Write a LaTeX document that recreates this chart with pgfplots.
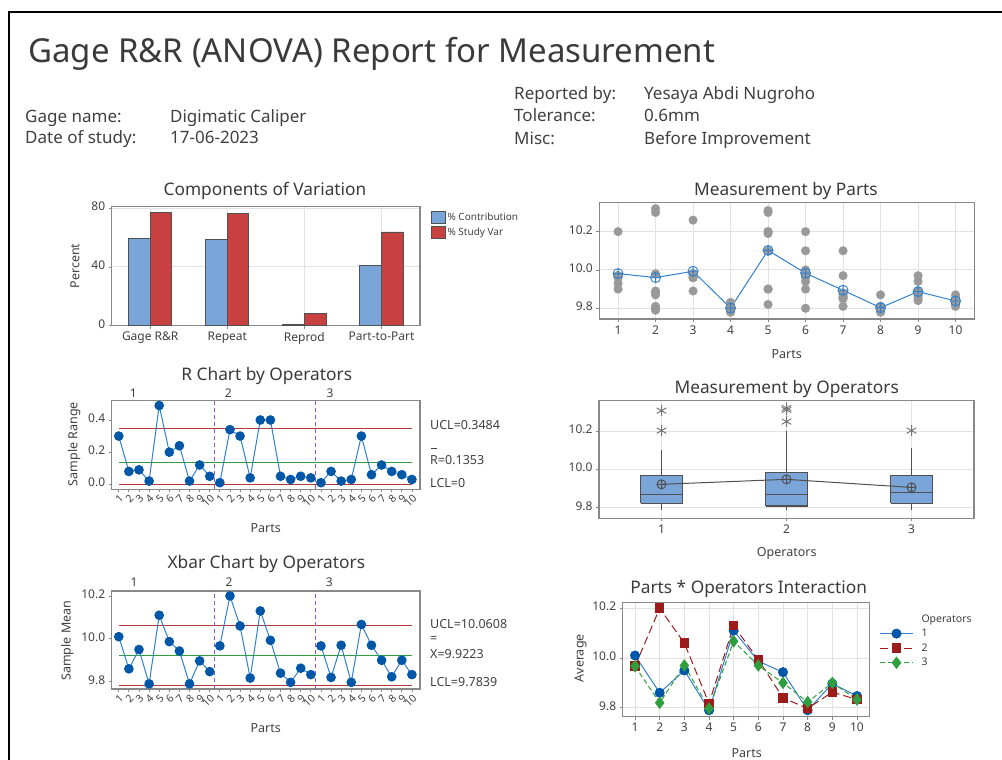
\documentclass[border=0pt]{standalone}
\usepackage{fontspec}
\setmainfont{Noto Sans}
\usepackage{pgfplots}
\usepackage{pgfplotstable}
\pgfplotsset{compat=1.18}
\definecolor{cblue}{HTML}{7AA5D8}
\definecolor{cred}{HTML}{C84141}
\definecolor{edge}{HTML}{505050}
\definecolor{axgray}{HTML}{888888}
\definecolor{gridgray}{HTML}{E2E2E2}
\definecolor{ptblue}{HTML}{0057A8}
\definecolor{lnblue}{HTML}{3080D0}
\definecolor{limred}{HTML}{B23A3A}
\definecolor{cgreen}{HTML}{2E9E3E}
\definecolor{dpurple}{HTML}{8B55E0}
\definecolor{dotgray}{HTML}{999999}
\definecolor{op2red}{HTML}{9E1B1B}
\definecolor{titlegray}{HTML}{3A3A3A}
\definecolor{txtgray}{HTML}{404040}
\definecolor{stargray}{HTML}{777777}
\newcommand{\fs}[1]{\fontsize{#1pt}{#1pt}\selectfont}

\pgfplotstableread{
x y
1 10.20
1 9.93
1 9.90
1 9.97
1 9.97
1 9.96
1 9.97
1 9.96
1 9.97
2 9.88
2 9.89
2 9.81
2 10.32
2 10.30
2 9.98
2 9.80
2 9.79
2 9.87
3 9.98
3 9.98
3 9.89
3 10.26
3 9.96
3 9.96
3 9.96
3 9.97
3 9.98
4 9.78
4 9.80
4 9.79
4 9.83
4 9.79
4 9.83
4 9.78
4 9.81
4 9.80
5 10.31
5 10.20
5 9.82
5 10.30
5 10.19
5 9.90
5 10.20
5 10.10
5 9.90
6 10.10
6 9.90
6 9.96
6 10.20
6 9.80
6 9.98
6 10.00
6 9.94
6 9.97
7 10.10
7 9.86
7 9.87
7 9.86
7 9.81
7 9.85
7 9.97
7 9.85
7 9.88
8 9.78
8 9.80
8 9.79
8 9.78
8 9.81
8 9.80
8 9.87
8 9.79
8 9.81
9 9.97
9 9.85
9 9.87
9 9.89
9 9.84
9 9.86
9 9.94
9 9.88
9 9.88
10 9.87
10 9.82
10 9.85
10 9.85
10 9.81
10 9.84
10 9.85
10 9.82
10 9.83
}\partsdata

\pgfplotsset{
 mm/.style={
  scale only axis, anchor=south west,
  axis line style={draw=axgray, line width=1.3pt},
  tick align=outside, major tick length=3pt,
  tick style={draw=axgray, line width=0.8pt},
  xtick pos=left, ytick pos=left,
  grid=major, major grid style={draw=gridgray, line width=0.9pt},
  ticklabel style={font=\fs{12}, text=txtgray},
  /pgf/number format/assume math mode=true,
  typeset ticklabels with strut,
 },
 dec1/.style={yticklabel style={/pgf/number format/.cd, fixed, fixed zerofill, precision=1}},
 sqlegend/.style={legend image code/.code={\draw[##1] (0pt,-6pt) rectangle (14pt,6pt);}},
 longline/.style={legend image code/.code={\draw[mark repeat=2, mark phase=2, ##1] plot coordinates {(0pt,0pt) (16.5pt,0pt) (33pt,0pt)};}},
 boxst/.style={fill=cblue, draw=edge, line width=1.1pt},
 whisk/.style={draw=edge, line width=0.9pt},
 outl/.style={only marks, mark=asterisk, mark size=5.5pt, mark options={draw=stargray, line width=1pt}},
}

\begin{document}
\begin{tikzpicture}[x=1pt,y=1pt]
\path[use as bounding box] (0,0) rectangle (1002,760);
\draw[line width=2pt, black] (9,0) -- (9,748) -- (1002,748);

% header
\node[anchor=base west, font=\fs{33}, text=titlegray, inner sep=0] at (28,760-63) {Gage R\&R (ANOVA) Report for Measurement};
\begin{scope}[every node/.style={anchor=base west, font=\fs{17}, text=txtgray, inner sep=0}]
\node at (25,760-122.7) {Gage name:};
\node at (170,760-122.7) {Digimatic Caliper};
\node at (25,760-144) {Date of study:};
\node at (170,760-144) {17-06-2023};
\node at (514,760-99.3) {Reported by:};
\node at (644,760-99.3) {Yesaya Abdi Nugroho};
\node at (514,760-121.7) {Tolerance:};
\node at (644,760-121.7) {0.6mm};
\node at (514,760-145) {Misc:};
\node at (644,760-145) {Before Improvement};
\end{scope}

% panel titles
\begin{scope}[every node/.style={anchor=base, font=\fs{17.3}, text=titlegray, inner sep=0}]
\node at (265,760-195.7) {Components of Variation};
\node at (786,760-195.7) {Measurement by Parts};
\node at (266.7,760-380.5) {R Chart by Operators};
\node at (786.7,760-394) {Measurement by Operators};
\node at (266.3,760-569) {Xbar Chart by Operators};
\node at (748.7,760-594) {Parts * Operators Interaction};
\end{scope}

% axis labels
\begin{scope}[every node/.style={anchor=center, font=\fs{12.5}, text=txtgray, inner sep=0}]
\node[rotate=90] at (75,760-266) {Percent};
\node at (786.7,760-354.3) {Parts};
\node[rotate=90] at (74,760-444) {Sample Range};
\node at (265.7,760-528.3) {Parts};
\node at (786.7,760-553.3) {Operators};
\node[rotate=90] at (67.3,760-640.7) {Sample Mean};
\node at (265.7,760-727.7) {Parts};
\node[rotate=90] at (580.7,760-658.3) {Average};
\node at (746.7,760-752.7) {Parts};
\end{scope}

% operator labels and control limits
\begin{scope}[every node/.style={anchor=base, font=\fs{12}, text=txtgray, inner sep=0}]
\node at (133.3,760-397.3) {1};
\node at (228.3,760-397.3) {2};
\node at (330,760-397.3) {3};
\node at (134,760-586.7) {1};
\node at (229,760-586.7) {2};
\node at (329.3,760-586.7) {3};
\end{scope}
\begin{scope}[every node/.style={anchor=base west, font=\fs{12.5}, text=txtgray, inner sep=0}]
\node at (430,760-430) {UCL=0.3484};
\node at (430,760-465) {R=0.1353};
\node at (430,760-487.3) {LCL=0};
\node at (430,760-628.3) {UCL=10.0608};
\node at (430,760-643) {=};
\node at (430,760-658.3) {X=9.9223};
\node at (430,760-686.7) {LCL=9.7839};
\end{scope}
\draw[txtgray, line width=0.9pt] (431,760-448.5) -- (437,760-448.5);

% 1. Components of variation
\begin{axis}[mm, at={(111.7pt,434.3pt)}, width=308.3pt, height=119pt,
  ybar=0pt, bar width=0.28,
  xmin=0.5, xmax=4.5, ymin=0, ymax=81,
  xtick={1,2,3,4}, xticklabels={Gage R\&R, Repeat, Reprod, Part-to-Part},
  ytick={0,40,80},
  legend style={at={(rel axis cs:1,1)}, anchor=north west, xshift=11pt, yshift=-4pt,
    draw=none, fill=none, inner sep=0pt, font=\fs{10}, text=txtgray,
    row sep=2pt, cells={anchor=west}, nodes={inner sep=1.5pt}},
]
\addplot[fill=cblue, draw=edge, line width=0.9pt, sqlegend]
  coordinates {(1,59.3) (2,58.6) (3,0.7) (4,40.7)};
\addlegendentry{\% Contribution}
\addplot[fill=cred, draw=edge, line width=0.9pt, sqlegend]
  coordinates {(1,77.0) (2,76.6) (3,8.4) (4,63.8)};
\addlegendentry{\% Study Var}
\end{axis}

% 2. Measurement by parts
\begin{axis}[mm, dec1, at={(599.3pt,441pt)}, width=375pt, height=116.7pt,
  xmin=0.5, xmax=10.5, ymin=9.744, ymax=10.353,
  xtick={1,2,3,4,5,6,7,8,9,10}, ytick={9.8,10.0,10.2}]
\addplot[only marks, mark=*, mark size=4.3pt, draw=dotgray, fill=dotgray] table[x=x, y=y] {\partsdata};
\addplot[lnblue, line width=1pt, mark=oplus, mark size=5pt, mark options={line width=0.9pt}]
  coordinates {(1,9.981) (2,9.960) (3,9.993) (4,9.801) (5,10.102) (6,9.983) (7,9.894) (8,9.803) (9,9.887) (10,9.838)};
\end{axis}

% 3. R chart
\begin{axis}[mm, dec1, at={(111.7pt,270.7pt)}, width=308.3pt, height=88.6pt,
  grid=none, xmin=0.3, xmax=30.8, ymin=-0.031, ymax=0.52,
  xtick={1,...,30},
  xticklabels={1,2,3,4,5,6,7,8,9,10,1,2,3,4,5,6,7,8,9,10,1,2,3,4,5,6,7,8,9,10},
  xticklabel style={rotate=45, anchor=north east, font=\fs{10.5}, inner sep=1pt},
  ytick={0,0.2,0.4}]
\addplot[limred, line width=1.2pt] coordinates {(1,0.3484) (30,0.3484)};
\addplot[limred, line width=1.2pt] coordinates {(1,0) (30,0)};
\addplot[cgreen, line width=1.2pt] coordinates {(1,0.1353) (30,0.1353)};
\addplot[dpurple, line width=1pt, dash pattern=on 4pt off 3pt] coordinates {(10.5,-0.031) (10.5,0.52)};
\addplot[dpurple, line width=1pt, dash pattern=on 4pt off 3pt] coordinates {(20.5,-0.031) (20.5,0.52)};
\addplot[lnblue, line width=1pt, mark=*, mark size=4.3pt, mark options={draw=ptblue, fill=ptblue}]
  coordinates {(1,0.30) (2,0.08) (3,0.09) (4,0.02) (5,0.49) (6,0.20) (7,0.24) (8,0.02) (9,0.12) (10,0.05)};
\addplot[lnblue, line width=1pt, mark=*, mark size=4.3pt, mark options={draw=ptblue, fill=ptblue}]
  coordinates {(11,0.01) (12,0.34) (13,0.30) (14,0.04) (15,0.40) (16,0.40) (17,0.05) (18,0.03) (19,0.05) (20,0.04)};
\addplot[lnblue, line width=1pt, mark=*, mark size=4.3pt, mark options={draw=ptblue, fill=ptblue}]
  coordinates {(21,0.01) (22,0.08) (23,0.02) (24,0.03) (25,0.30) (26,0.06) (27,0.12) (28,0.08) (29,0.06) (30,0.03)};
\end{axis}

% 4. Measurement by operators (box plot)
\begin{axis}[mm, dec1, at={(599pt,241.7pt)}, width=375pt, height=117.6pt,
  xmin=0.5, xmax=3.5, ymin=9.745, ymax=10.358,
  xtick={1,2,3}, ytick={9.8,10.0,10.2}]
% operator 1
\addplot[whisk] coordinates {(1,9.788) (1,9.823)};
\addplot[whisk] coordinates {(1,9.970) (1,10.10)};
\addplot[boxst] coordinates {(0.832,9.823) (1.168,9.823) (1.168,9.970) (0.832,9.970) (0.832,9.823)};
\addplot[whisk, line width=1.1pt] coordinates {(0.832,9.871) (1.168,9.871)};
\addplot[outl] coordinates {(1,10.306) (1,10.202)};
% operator 2
\addplot[whisk] coordinates {(2,9.788) (2,9.809)};
\addplot[whisk] coordinates {(2,9.984) (2,10.20)};
\addplot[boxst] coordinates {(1.832,9.809) (2.168,9.809) (2.168,9.984) (1.832,9.984) (1.832,9.809)};
\addplot[whisk, line width=1.1pt] coordinates {(1.832,9.871) (2.168,9.871)};
\addplot[outl] coordinates {(2,10.32) (2,10.31) (2,10.249)};
% operator 3
\addplot[whisk] coordinates {(3,9.788) (3,9.823)};
\addplot[whisk] coordinates {(3,9.970) (3,10.11)};
\addplot[boxst] coordinates {(2.832,9.823) (3.168,9.823) (3.168,9.970) (2.832,9.970) (2.832,9.823)};
\addplot[whisk, line width=1.1pt] coordinates {(2.832,9.878) (3.168,9.878)};
\addplot[outl] coordinates {(3,10.202)};
% means
\addplot[edge, line width=1pt, mark=oplus, mark size=4.5pt] coordinates {(1,9.922) (2,9.948) (3,9.906)};
\end{axis}

% 5. Xbar chart
\begin{axis}[mm, dec1, at={(111.7pt,71pt)}, width=308.3pt, height=98pt,
  grid=none, xmin=0.3, xmax=30.8, ymin=9.766, ymax=10.223,
  xtick={1,...,30},
  xticklabels={1,2,3,4,5,6,7,8,9,10,1,2,3,4,5,6,7,8,9,10,1,2,3,4,5,6,7,8,9,10},
  xticklabel style={rotate=45, anchor=north east, font=\fs{10.5}, inner sep=1pt},
  ytick={9.8,10.0,10.2}]
\addplot[limred, line width=1.2pt] coordinates {(1,10.0608) (30,10.0608)};
\addplot[limred, line width=1.2pt] coordinates {(1,9.7839) (30,9.7839)};
\addplot[cgreen, line width=1.2pt] coordinates {(1,9.9223) (30,9.9223)};
\addplot[dpurple, line width=1pt, dash pattern=on 4pt off 3pt] coordinates {(10.5,9.7) (10.5,10.3)};
\addplot[dpurple, line width=1pt, dash pattern=on 4pt off 3pt] coordinates {(20.5,9.7) (20.5,10.3)};
\addplot[lnblue, line width=1pt, mark=*, mark size=4.3pt, mark options={draw=ptblue, fill=ptblue}]
  coordinates {(1,10.010) (2,9.860) (3,9.950) (4,9.790) (5,10.110) (6,9.987) (7,9.943) (8,9.790) (9,9.897) (10,9.847)};
\addplot[lnblue, line width=1pt, mark=*, mark size=4.3pt, mark options={draw=ptblue, fill=ptblue}]
  coordinates {(11,9.967) (12,10.200) (13,10.060) (14,9.817) (15,10.130) (16,9.993) (17,9.840) (18,9.797) (19,9.863) (20,9.833)};
\addplot[lnblue, line width=1pt, mark=*, mark size=4.3pt, mark options={draw=ptblue, fill=ptblue}]
  coordinates {(21,9.967) (22,9.820) (23,9.970) (24,9.797) (25,10.067) (26,9.970) (27,9.900) (28,9.823) (29,9.900) (30,9.833)};
\end{axis}

% 6. Interaction
\begin{axis}[mm, dec1, at={(622.7pt,43.3pt)}, width=246.6pt, height=114.4pt,
  xmin=0.5, xmax=10.5, ymin=9.764, ymax=10.224,
  xtick={1,2,3,4,5,6,7,8,9,10}, ytick={9.8,10.0,10.2},
  legend style={at={(rel axis cs:1,1)}, anchor=north west, xshift=10pt, yshift=-11pt,
    draw=none, fill=none, inner sep=0pt, font=\fs{10.5}, text=txtgray,
    row sep=3.5pt, cells={anchor=west}, nodes={inner sep=1pt},
    /tikz/every odd column/.append style={column sep=7pt}},
  longline,
]
\addlegendimage{empty legend}
\addlegendentry{Operators}
\addplot[lnblue, line width=1pt, mark=*, mark size=4.5pt, mark options={draw=ptblue, fill=ptblue, solid}]
  coordinates {(1,10.010) (2,9.860) (3,9.950) (4,9.790) (5,10.110) (6,9.987) (7,9.943) (8,9.790) (9,9.897) (10,9.847)};
\addlegendentry{1}
\addplot[op2red, line width=1pt, dash pattern=on 8pt off 4pt, mark=square*, mark size=4.3pt, mark options={draw=op2red, fill=op2red, solid}]
  coordinates {(1,9.967) (2,10.200) (3,10.060) (4,9.817) (5,10.130) (6,9.993) (7,9.840) (8,9.797) (9,9.863) (10,9.833)};
\addlegendentry{2}
\addplot[cgreen, line width=1pt, dash pattern=on 5pt off 3pt, mark=diamond*, mark size=5.5pt, mark options={draw=cgreen, fill=cgreen, solid}]
  coordinates {(1,9.967) (2,9.820) (3,9.970) (4,9.797) (5,10.067) (6,9.970) (7,9.900) (8,9.823) (9,9.900) (10,9.833)};
\addlegendentry{3}
\end{axis}
\end{tikzpicture}
\end{document}
